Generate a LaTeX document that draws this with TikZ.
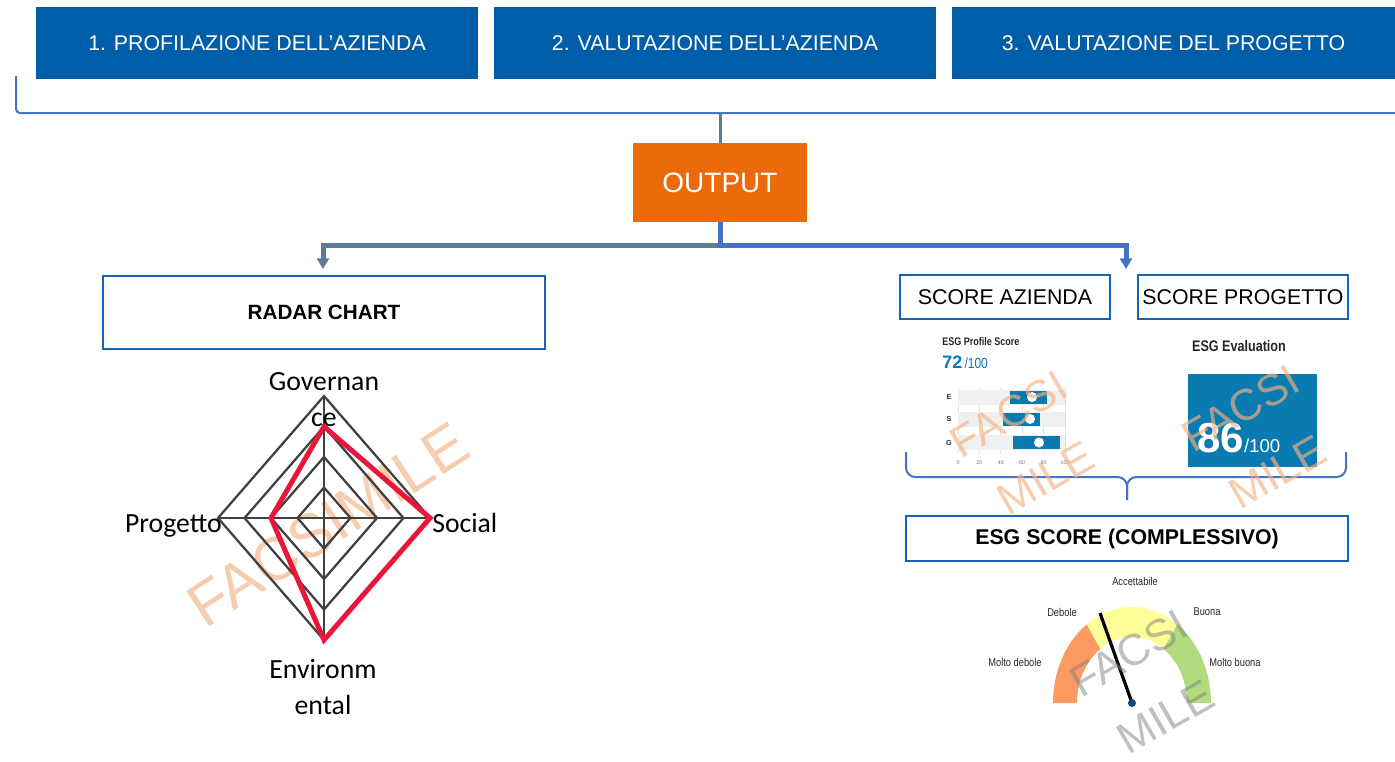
\documentclass[tikz,border=0pt]{standalone}
\usepackage{fontspec}
\setmainfont{Liberation Sans}
\newfontfamily\calibrifont{Carlito}
\newfontfamily\narrowfont[FakeStretch=0.82]{Liberation Sans}
\usetikzlibrary{arrows.meta}
\definecolor{phase-blue}{HTML}{005DA8}
\definecolor{out-orange}{HTML}{EB6A0C}
\definecolor{link-gray}{HTML}{5E7A95}
\definecolor{link-blue}{HTML}{4472C4}
\definecolor{box-blue}{HTML}{1565B4}
\definecolor{radar-red}{HTML}{E8173A}
\definecolor{grid-dark}{HTML}{404040}
\definecolor{wm-peach}{HTML}{F4B183}
\definecolor{score-blue}{HTML}{0A7BB0}
\definecolor{band-gray}{HTML}{F0F0F0}
\definecolor{gauge-orange}{HTML}{FC9A62}
\definecolor{gauge-yellow}{HTML}{FFFF99}
\definecolor{gauge-green}{HTML}{B0DB7E}
\tikzset{
    phase-box/.style = {fill=phase-blue, text=white, inner sep=0pt, minimum width=331.5pt, minimum height=54pt, font=\fontsize{16}{19}\selectfont},
    output-box/.style = {fill=out-orange, text=white, inner sep=0pt, minimum width=130.5pt, minimum height=59.25pt, font=\fontsize{21}{25}\selectfont},
    title-box/.style = {draw=box-blue, fill=white, line width=1.5pt, inner sep=0pt, font=\fontsize{16}{19}\selectfont},
    bracket-line/.style = {draw=link-blue, line width=1.5pt},
    gray-link/.style = {draw=link-gray, line width=2.25pt},
    gray-flow/.style = {draw=link-gray, line width=3.75pt, -{Triangle[width=9pt,length=8pt]}},
    blue-flow/.style = {draw=link-blue, line width=3.75pt, -{Triangle[width=9pt,length=8pt]}},
    radar-grid/.style = {draw=grid-dark, line width=1.7pt},
    radar-data/.style = {draw=radar-red, line width=3.75pt},
    radar-label/.style = {inner sep=0pt, align=center, font=\calibrifont\fontsize{20.8}{27}\selectfont},
    gauge-label/.style = {inner sep=0pt, text=black!85, font=\narrowfont\fontsize{8.5}{10}\selectfont},
    watermark/.style = {inner sep=0pt, align=center, text=wm-peach, text opacity=0.65, font=\fontsize{33}{55}\selectfont},
}
\begin{document}
\begin{tikzpicture}[x=0.75pt,y=-0.75pt]
\useasboundingbox (0,0) rectangle (1395,761);

% phases
\node[phase-box] (phase-1) at (257,43) {1. PROFILAZIONE DELL’AZIENDA};
\node[phase-box] (phase-2) at (715,43) {2. VALUTAZIONE DELL’AZIENDA};
\node[phase-box, minimum width=332.25pt] (phase-3) at (1173.5,43) {3. VALUTAZIONE DEL PROGETTO};

\coordinate (bracket-start) at (16,76);
\coordinate (bracket-end) at (1395,113);
\coordinate (bracket-mid) at (720,113);
\draw[bracket-line, rounded corners=3pt] (bracket-start) |- (bracket-end);

% output and split
\node[output-box] (output) at (720,182.5) {OUTPUT};
\draw[gray-link] (bracket-mid) -- (output.north);
\coordinate (split) at (720,245);
\coordinate (radar-arrow) at (323,269);
\coordinate (score-arrow) at (1126,269);
\draw[gray-flow] (split) -| (radar-arrow);
\draw[blue-flow] (output.south) -- (split) -| (score-arrow);

% radar chart
\node[title-box, minimum width=331.5pt, minimum height=54.75pt, font=\bfseries\fontsize{15.5}{19}\selectfont] (radar-title) at (324,312.5) {RADAR CHART};
\node[watermark, rotate=33, font=\fontsize{46}{55}\selectfont] (wm-radar) at (328,525) {FACSIMILE};
\coordinate (radar-c) at (324,518);
\foreach \r in {0.25,0.5,0.75,1}
    \draw[radar-grid] (324,518-122*\r) -- (324+106*\r,518) -- (324,518+122*\r) -- (324-106*\r,518) -- cycle;
\draw[radar-grid] (324,396) -- (324,640) (218,518) -- (430,518);
\draw[radar-data] (324,426.5) -- (430,518) -- (324,640) -- (271,518) -- cycle;
\node[radar-label, anchor=north] (lbl-gov) at (324,372) {Governan\\ce};
\node[radar-label, anchor=base east] (lbl-prog) at (222,532) {Progetto};
\node[radar-label, anchor=base west] (lbl-soc) at (432,532) {Social};
\node[radar-label, anchor=north] (lbl-env) at (323,659) {Environm\\ental};

% scores
\node[title-box, minimum width=157.5pt, minimum height=33pt] (score-azienda) at (1005,297) {SCORE AZIENDA};
\node[title-box, minimum width=157.5pt, minimum height=33pt] (score-progetto) at (1243,297) {SCORE PROGETTO};

% profile score
\node[anchor=base west, inner sep=0pt, font=\narrowfont\bfseries\fontsize{8.25}{10}\selectfont, text=black!85] (profile-title) at (942,345) {ESG Profile Score};
\node[anchor=base west, inner sep=0pt, text=score-blue] (profile-value) at (942,368) {{\bfseries\fontsize{13.5}{15}\selectfont 72}\,{\narrowfont\fontsize{11}{13}\selectfont/100}};
\foreach \v [count=\i from 0] in {0,20,40,60,80,100} {
    \draw[black!12, line width=0.6pt] ({958+1.07*\v},388) -- ({958+1.07*\v},453);
    \node[inner sep=0pt, text=black!55, font=\fontsize{4}{5}\selectfont] (tick-\i) at ({958+1.07*\v},463) {\v};
}
\foreach \row/\y/\from/\to/\dot in {E/397/1010/1047/1032, S/419/1003/1040/1030, G/442.5/1013/1060/1039} {
    \fill[band-gray] (958,\y-7.5) rectangle (1065,\y+7.5);
    \fill[score-blue] (\from,\y-6.5) rectangle (\to,\y+6.5);
    \fill[white] (\dot,\y) circle (5);
    \node[inner sep=0pt, font=\bfseries\fontsize{5.5}{6}\selectfont, text=black!80] (row-\row) at (949,\y) {\row};
}

% evaluation
\node[inner sep=0pt, font=\narrowfont\bfseries\fontsize{11.5}{13}\selectfont, text=black!85] (eval-title) at (1239,346) {ESG Evaluation};
\node[fill=score-blue, inner sep=0pt, minimum width=96.75pt, minimum height=69.75pt] (eval-box) at (1252.5,420) {};
\node[anchor=base west, inner sep=0pt, text=white] (eval-value) at (1197,452) {{\bfseries\fontsize{31.5}{34}\selectfont 86}{\fontsize{14}{16}\selectfont/100}};

% brace
\coordinate (brace-left) at (906,452);
\coordinate (brace-right) at (1346,452);
\coordinate (brace-mid) at (1127,477);
\coordinate (brace-tip) at (1127,500);
\draw[bracket-line, rounded corners=7pt] (brace-left) |- (brace-mid) -- (brace-tip);
\draw[bracket-line, rounded corners=7pt] (brace-right) |- (brace-mid) -- (brace-tip);

\node[title-box, minimum width=331.5pt, minimum height=33.75pt, font=\bfseries\fontsize{16}{19}\selectfont] (esg-score) at (1127,538.5) {ESG SCORE (COMPLESSIVO)};

% gauge
\coordinate (gauge-c) at (1132,703);
\fill[gauge-orange] plot[domain=180:125, samples=20] ({1132+79*cos(\x)},{703-96*sin(\x)}) -- plot[domain=125:180, samples=20] ({1132+55*cos(\x)},{703-66*sin(\x)}) -- cycle;
\fill[gauge-yellow] plot[domain=125:55, samples=30] ({1132+79*cos(\x)},{703-96*sin(\x)}) -- plot[domain=55:125, samples=30] ({1132+55*cos(\x)},{703-66*sin(\x)}) -- cycle;
\fill[gauge-green] plot[domain=55:0, samples=20] ({1132+79*cos(\x)},{703-96*sin(\x)}) -- plot[domain=0:55, samples=20] ({1132+55*cos(\x)},{703-66*sin(\x)}) -- cycle;
\coordinate (needle-end) at (1100,613);
\draw[black, line width=2.4pt] (gauge-c) -- (needle-end);
\fill[box-blue!70!black] (gauge-c) circle (4);
\node[gauge-label] (g-acc) at (1135,581) {Accettabile};
\node[gauge-label] (g-deb) at (1062,612) {Debole};
\node[gauge-label] (g-buo) at (1207,612) {Buona};
\node[gauge-label] (g-mdeb) at (1015,662) {Molto debole};
\node[gauge-label] (g-mbuo) at (1235,662) {Molto buona};

% watermarks
\node[watermark, rotate=30] (wm-profile) at (1027,446) {FACSI\\MILE};
\node[watermark, rotate=30] (wm-eval) at (1259,440) {FACSI\\MILE};
\node[watermark, rotate=30, text=black!50, text opacity=0.5] (wm-gauge) at (1147,685) {FACSI\\MILE};
\end{tikzpicture}
\end{document}
